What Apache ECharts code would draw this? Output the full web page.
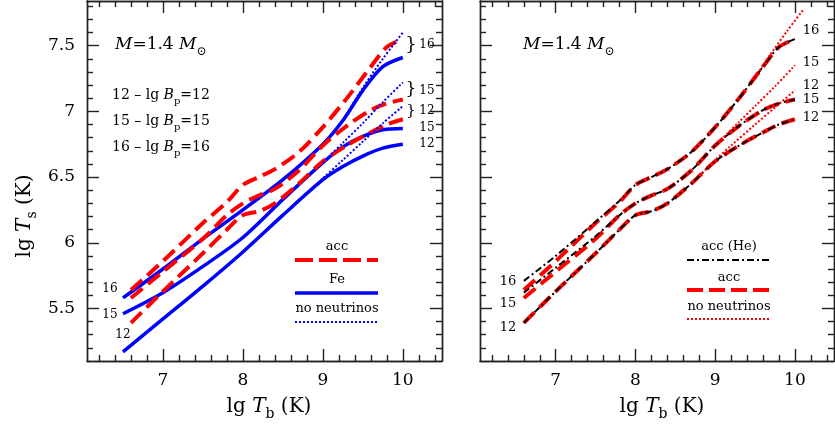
<!DOCTYPE html>
<html>
<head>
<meta charset="utf-8">
<script src="https://cdn.jsdelivr.net/npm/echarts@6.0.0/dist/echarts.min.js"></script>
<style>
html, body { margin: 0; padding: 0; background: #fff; }
#chart { width: 835px; height: 435px; }
</style>
</head>
<body>
<div id="chart"></div>
<script>
// ---- data (lg Tb -> lg Ts) ----
// Fe envelopes, left panel
const feX = [6.5, 7.0, 7.5, 8.0, 8.5, 9.0, 9.25, 9.5, 9.75, 10.0];
const fe12 = [5.17, 5.42, 5.67, 5.93, 6.21, 6.48, 6.58, 6.66, 6.72, 6.75];
const fe15 = [5.46, 5.62, 5.82, 6.04, 6.33, 6.61, 6.73, 6.81, 6.86, 6.87];
const fe16 = [5.58, 5.80, 6.03, 6.25, 6.48, 6.75, 6.93, 7.16, 7.34, 7.41];

// Fe without neutrinos (only where it leaves the solid curves)
const nnFe12X = [8.75, 9.0, 9.25, 9.5, 9.75, 10.0];
const nnFe12 = [6.35, 6.49, 6.63, 6.77, 6.91, 7.04];
const nnFe15X = [9.0, 9.25, 9.5, 9.75, 10.0];
const nnFe15 = [6.61, 6.76, 6.91, 7.07, 7.22];
const nnFe16X = [9.25, 9.5, 9.75, 10.0];
const nnFe16 = [6.93, 7.18, 7.40, 7.60];

// accreted envelopes (both panels)
const accX = [6.6, 7.0, 7.5, 7.8, 8.0, 8.2, 8.4, 8.7, 9.0, 9.3, 9.6, 9.8, 10.0];
const acc12 = [5.39, 5.63, 5.92, 6.10, 6.21, 6.24, 6.30, 6.45, 6.62, 6.74, 6.84, 6.90, 6.94];
const acc15 = [5.58, 5.78, 6.03, 6.21, 6.30, 6.36, 6.41, 6.55, 6.74, 6.89, 7.01, 7.06, 7.09];
const acc16 = [5.64, 5.86, 6.15, 6.31, 6.44, 6.50, 6.56, 6.69, 6.88, 7.10, 7.34, 7.49, 7.55];

// accreted He envelopes, right panel
const he12 = [5.39, 5.63, 5.92, 6.10, 6.21, 6.24, 6.30, 6.45, 6.62, 6.74, 6.84, 6.90, 6.94];
const he15 = [5.62, 5.81, 6.05, 6.21, 6.30, 6.36, 6.41, 6.55, 6.74, 6.89, 7.01, 7.06, 7.09];
const he16 = [5.71, 5.90, 6.16, 6.32, 6.44, 6.50, 6.56, 6.69, 6.88, 7.10, 7.34, 7.49, 7.55];

// accreted without neutrinos, right panel
const nnAcc12X = [8.8, 9.0, 9.2, 9.5, 9.75, 10.0];
const nnAcc12 = [6.51, 6.63, 6.74, 6.90, 7.03, 7.16];
const nnAcc15X = [9.0, 9.3, 9.5, 9.75, 10.0];
const nnAcc15 = [6.74, 6.92, 7.04, 7.19, 7.35];
const nnAcc16X = [9.5, 9.7, 9.9, 10.1];
const nnAcc16 = [7.26, 7.44, 7.61, 7.77];

// ticks
const xMajor = [7, 8, 9, 10];
const xMinor = [6.2, 6.4, 6.6, 6.8, 7.2, 7.4, 7.6, 7.8, 8.2, 8.4, 8.6, 8.8, 9.2, 9.4, 9.6, 9.8, 10.2, 10.4];
const yMajor = [5.5, 6, 6.5, 7, 7.5];
const yMinor = [5.2, 5.3, 5.4, 5.6, 5.7, 5.8, 5.9, 6.1, 6.2, 6.3, 6.4, 6.6, 6.7, 6.8, 6.9,
                7.1, 7.2, 7.3, 7.4, 7.6, 7.7, 7.8];

const SERIF = 'DejaVu Serif';
const X_MIN = 6.05, X_MAX = 10.49, Y_MIN = 5.1, Y_MAX = 7.84;
const frame = { color: '#222', width: 1.4 };

const chart = echarts.init(document.getElementById('chart'), null, { renderer: 'canvas' });

function xAx(grid, pos, ticks, len, labels) {
    return {
        type: 'value', gridIndex: grid, position: pos, min: X_MIN, max: X_MAX,
        axisLine: { show: true, onZero: false, lineStyle: frame },
        axisTick: { show: true, inside: true, length: len, customValues: ticks, lineStyle: frame },
        axisLabel: labels
            ? { show: true, customValues: xMajor, margin: 11, color: '#000', fontFamily: SERIF, fontSize: 17 }
            : { show: false },
        splitLine: { show: false }
    };
}
function yAx(grid, pos, ticks, len, labels) {
    return {
        type: 'value', gridIndex: grid, position: pos, min: Y_MIN, max: Y_MAX,
        axisLine: { show: true, onZero: false, lineStyle: frame },
        axisTick: { show: true, inside: true, length: len, customValues: ticks, lineStyle: frame },
        axisLabel: labels
            ? { show: true, customValues: yMajor, margin: 12, color: '#000', fontFamily: SERIF, fontSize: 17 }
            : { show: false },
        splitLine: { show: false }
    };
}

const xAxes = [], yAxes = [];
[0, 1].forEach(g => {
    xAxes.push(xAx(g, 'bottom', xMajor, 12, true), xAx(g, 'bottom', xMinor, 6, false),
               xAx(g, 'top', xMajor, 12, false), xAx(g, 'top', xMinor, 6, false));
    yAxes.push(yAx(g, 'left', yMajor, 12, g === 0), yAx(g, 'left', yMinor, 6, false),
               yAx(g, 'right', yMajor, 12, false), yAx(g, 'right', yMinor, 6, false));
});

const pairs = (xs, ys) => xs.map((x, i) => [x, ys[i]]);
const RED = '#ff0000', BLUE = '#0000ff';
const DASH = [15, 7], DOT = [2, 2], DASHDOT = [7, 3, 2, 3];

function curve(panel, xs, ys, color, width, dash, z) {
    return {
        type: 'line', xAxisIndex: panel * 4, yAxisIndex: panel * 4,
        data: pairs(xs, ys), smooth: 0.3, symbol: 'none', silent: true, z: z,
        lineStyle: { color: color, width: width, type: dash, cap: 'butt' }
    };
}

const series = [
    curve(0, feX, fe12, BLUE, 3.5, 'solid', 2),
    curve(0, feX, fe15, BLUE, 3.5, 'solid', 2),
    curve(0, feX, fe16, BLUE, 3.5, 'solid', 2),
    curve(0, accX, acc12, RED, 4, DASH, 3),
    curve(0, accX, acc15, RED, 4, DASH, 3),
    curve(0, accX, acc16, RED, 4, DASH, 3),
    curve(0, nnFe12X, nnFe12, BLUE, 2, DOT, 4),
    curve(0, nnFe15X, nnFe15, BLUE, 2, DOT, 4),
    curve(0, nnFe16X, nnFe16, BLUE, 2, DOT, 4),

    curve(1, accX, acc12, RED, 4, DASH, 2),
    curve(1, accX, acc15, RED, 4, DASH, 2),
    curve(1, accX, acc16, RED, 4, DASH, 2),
    curve(1, accX, he12, '#000', 2, DASHDOT, 3),
    curve(1, accX, he15, '#000', 2, DASHDOT, 3),
    curve(1, accX, he16, '#000', 2, DASHDOT, 3),
    curve(1, nnAcc12X, nnAcc12, RED, 2, DOT, 4),
    curve(1, nnAcc15X, nnAcc15, RED, 2, DOT, 4),
    curve(1, nnAcc16X, nnAcc16, RED, 2, DOT, 4)
];

// text helpers
const rich = size => ({
    i: { fontFamily: SERIF, fontStyle: 'italic', fontSize: size, lineHeight: size + 8, verticalAlign: 'middle', fill: '#000' },
    s: { fontFamily: SERIF, fontSize: Math.round(size * 0.68), lineHeight: Math.round(size * 0.7), verticalAlign: 'bottom', fill: '#000' },
    r: { fontFamily: SERIF, fontSize: size, lineHeight: size + 8, verticalAlign: 'middle', fill: '#000' }
});
function txt(x, y, text, size, align, extra) {
    return Object.assign({
        type: 'text', x: x, y: y, silent: true, z: 100,
        style: {
            text: text, fill: '#000', fontFamily: SERIF, fontSize: size,
            align: align || 'center', verticalAlign: 'middle', rich: rich(size)
        }
    }, extra || {});
}
function sample(x1, x2, y, color, width, dash) {
    return {
        type: 'line', silent: true, z: 100,
        shape: { x1: x1, y1: y, x2: x2, y2: y },
        style: { stroke: color, lineWidth: width, lineDash: dash }
    };
}

const graphics = [
    // axis titles
    txt(269, 407, '{r|lg }{i|T}{s|b}{r| (K)}', 20),
    txt(662, 407, '{r|lg }{i|T}{s|b}{r| (K)}', 20),
    txt(25, 216, '{r|lg }{i|T}{s|s}{r| (K)}', 20, 'center', { rotation: Math.PI / 2 }),

    // left panel annotations
    txt(115, 45, '{i|M}{r|=1.4 }{i|M}{s|\u2299}', 17, 'left'),
    txt(112, 95, '{r|12 \u2013 lg }{i|B}{s|p}{r|=12}', 14, 'left'),
    txt(112, 121, '{r|15 \u2013 lg }{i|B}{s|p}{r|=15}', 14, 'left'),
    txt(112, 147, '{r|16 \u2013 lg }{i|B}{s|p}{r|=16}', 14, 'left'),
    txt(337, 247, 'acc', 13),
    sample(295, 378, 260, RED, 4, [18, 6]),
    txt(337, 280, 'Fe', 13),
    sample(295, 378, 293, BLUE, 3.5, null),
    txt(337, 309, 'no neutrinos', 13),
    sample(295, 378, 322, BLUE, 2, DOT),
    txt(110, 289, '16', 12),
    txt(110, 315, '15', 12),
    txt(123, 335, '12', 12),
    txt(411, 45, '}', 18),
    txt(427, 45, '16', 12),
    txt(411, 90, '}', 17),
    txt(427, 91, '15', 12),
    txt(411, 111, '}', 15),
    txt(427, 111, '12', 12),
    txt(427, 128, '15', 12),
    txt(427, 144, '12', 12),

    // right panel annotations
    txt(523, 45, '{i|M}{r|=1.4 }{i|M}{s|\u2299}', 17, 'left'),
    txt(729, 247, 'acc (He)', 13),
    sample(687, 771, 260, '#000', 2, DASHDOT),
    txt(729, 278, 'acc', 13),
    sample(687, 771, 290, RED, 4, [16, 6]),
    txt(729, 307, 'no neutrinos', 13),
    sample(687, 771, 319, RED, 2, DOT),
    txt(508, 282, '16', 13),
    txt(508, 304, '15', 13),
    txt(508, 328, '12', 13),
    txt(811, 31, '16', 13),
    txt(811, 63, '15', 13),
    txt(811, 86, '12', 13),
    txt(811, 100, '15', 13),
    txt(811, 118, '12', 13)
];

chart.setOption({
    animation: false,
    backgroundColor: '#fff',
    grid: [
        { left: 87, top: 1, width: 355, height: 360, outerBoundsMode: 'none', containLabel: false },
        { left: 480, top: 1, width: 354, height: 360, outerBoundsMode: 'none', containLabel: false }
    ],
    xAxis: xAxes,
    yAxis: yAxes,
    series: series,
    graphic: graphics
});
</script>
</body>
</html>
